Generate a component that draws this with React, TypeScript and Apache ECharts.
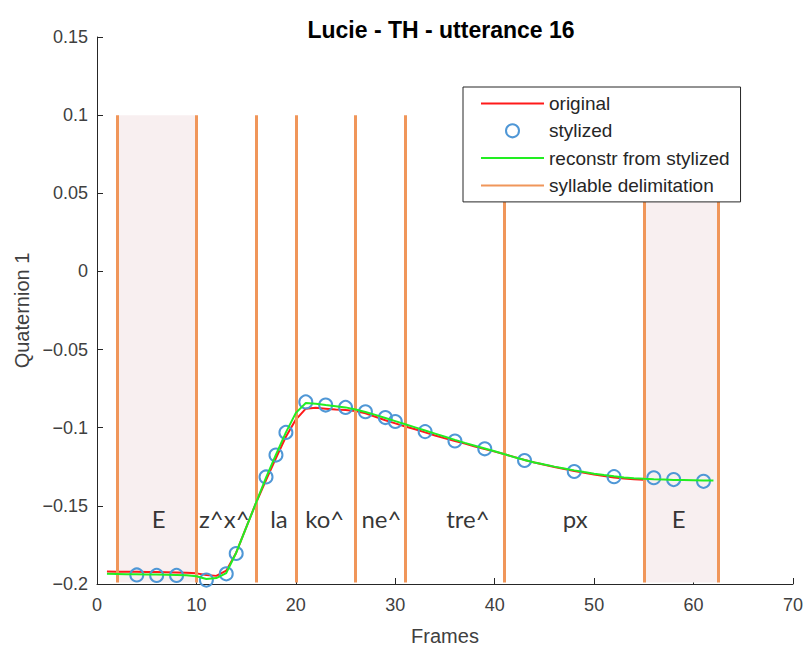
import React, { useEffect, useRef } from "react";
import * as echarts from "echarts";

const titleText = "Lucie - TH - utterance 16";

const originalY = [
  -0.192, -0.1921, -0.1922, -0.1922, -0.1923, -0.1924, -0.1925, -0.1926, -0.1928, -0.1932,
  -0.1942, -0.1948, -0.1915, -0.18, -0.164, -0.148, -0.1335, -0.1195, -0.1058, -0.0948,
  -0.0878, -0.0873, -0.0878, -0.0883, -0.0887, -0.0893, -0.0908, -0.093, -0.0952, -0.0972,
  -0.0992, -0.101, -0.103, -0.105, -0.1068, -0.1085, -0.1102, -0.112, -0.1137, -0.1153,
  -0.117, -0.1188, -0.1206, -0.1222, -0.1237, -0.1251, -0.1264, -0.1277, -0.1288, -0.1299,
  -0.1309, -0.1318, -0.1325, -0.133, -0.1333,
];

const reconY = [
  -0.1935, -0.1936, -0.1937, -0.1938, -0.1939, -0.194, -0.1941, -0.1942, -0.1944, -0.195,
  -0.1968, -0.1962, -0.193, -0.18, -0.164, -0.148, -0.132, -0.1172, -0.103, -0.0905,
  -0.0842, -0.0846, -0.0855, -0.0862, -0.087, -0.0884, -0.0899, -0.0918, -0.0938, -0.0958,
  -0.0978, -0.0998, -0.1018, -0.1038, -0.1058, -0.1078, -0.1097, -0.1115, -0.1133, -0.1151,
  -0.117, -0.1189, -0.1207, -0.1222, -0.1236, -0.1249, -0.1261, -0.1273, -0.1284, -0.1294,
  -0.1303, -0.1311, -0.1318, -0.1323, -0.1327, -0.133, -0.1332, -0.1334, -0.1335, -0.1336,
  -0.1337, -0.1338,
];

const stylizedX = [4, 6, 8, 11, 13, 14, 17, 18, 19, 21, 23, 25, 27, 29, 30, 33, 36, 39, 43, 48, 52, 56, 58, 61];
const stylizedY = [
  -0.1942, -0.1945, -0.1945, -0.1975, -0.1935, -0.1805, -0.1315, -0.1175, -0.103, -0.0835,
  -0.0855, -0.087, -0.0898, -0.0935, -0.096, -0.1025, -0.1085, -0.1135, -0.121, -0.128,
  -0.1313, -0.132, -0.1332, -0.1343,
];

const syllableBounds = [2, 10, 16, 20, 26, 31, 41, 55, 62.5];
const shadedRegions = [
  [2, 10],
  [55, 62.5],
];
const delimTop = 0.1;
const delimBottom = -0.199;

const segLabels = ["E", "z^x^", "la", "ko^", "ne^", "tre^", "px", "E"];
const segLabelX = [6.2, 12.8, 18.3, 22.9, 28.6, 37.3, 48.1, 58.5];
const segLabelY = -0.158;

const legendNames = ["original", "stylized", "reconstr from stylized", "syllable delimitation"];

const xTicks = { min: 0, max: 70, interval: 10 };
const yTicks = { min: -0.2, max: 0.15, interval: 0.05 };

const axisColor = "#262626";
const fmt = (v: number) => {
  const n = parseFloat(Number(v).toFixed(4));
  return String(n).replace("-", "\u2212");
};

export default function App() {
  const ref = useRef<HTMLDivElement>(null);
  useEffect(() => {
    if (!ref.current) return;
    const chart = echarts.init(ref.current, null, { renderer: "svg" });
    const orange = "#f0965a";
    const red = "#ff1a1a";
    const green = "#22ee22";
    const blue = "#4f97d6";
    const noSymbol = { color: "rgba(0,0,0,0)", borderWidth: 0, borderColor: "rgba(0,0,0,0)" };
    chart.setOption({
      animation: false,
      backgroundColor: "#ffffff",
      title: {
        text: titleText,
        left: 436,
        top: 13,
        textAlign: "center",
        textStyle: { fontFamily: "Liberation Sans", fontWeight: "bold", fontSize: 23, color: "#000" },
      },
      grid: { left: 97, right: 11, top: 37, bottom: 67, containLabel: false },
      legend: {
        left: 463,
        top: 87,
        orient: "vertical",
        data: [
          { name: legendNames[0], itemStyle: noSymbol },
          {
            name: legendNames[1],
            icon: "circle",
            itemStyle: { color: "rgba(0,0,0,0)", borderColor: blue, borderWidth: 2 },
          },
          { name: legendNames[2], itemStyle: noSymbol },
          { name: legendNames[3], itemStyle: noSymbol },
        ],
        itemWidth: 63,
        itemHeight: 13,
        itemGap: 8.3,
        padding: [7, 11, 7, 17],
        borderColor: axisColor,
        borderWidth: 1,
        backgroundColor: "#ffffff",
        textStyle: { fontFamily: "Liberation Sans", fontSize: 19, color: "#262626", lineHeight: 18 },
        z: 10,
      },
      xAxis: {
        type: "value",
        min: xTicks.min,
        max: xTicks.max,
        interval: xTicks.interval,
        name: "Frames",
        nameLocation: "middle",
        nameGap: 42,
        nameTextStyle: { fontFamily: "Liberation Sans", fontSize: 20, color: "#404040" },
        axisLine: { show: true, onZero: false, lineStyle: { color: axisColor, width: 1 } },
        axisTick: { show: true, inside: true, length: 6, lineStyle: { color: axisColor } },
        axisLabel: { fontFamily: "Liberation Sans", fontSize: 18, color: "#404040", margin: 12, formatter: fmt },
        splitLine: { show: false },
      },
      yAxis: {
        type: "value",
        min: yTicks.min,
        max: yTicks.max,
        interval: yTicks.interval,
        name: "Quaternion 1",
        nameLocation: "middle",
        nameGap: 64,
        nameTextStyle: { fontFamily: "Liberation Sans", fontSize: 20, color: "#404040" },
        axisLine: { show: true, onZero: false, lineStyle: { color: axisColor, width: 1 } },
        axisTick: { show: true, inside: true, length: 6, lineStyle: { color: axisColor } },
        axisLabel: { fontFamily: "Liberation Sans", fontSize: 18, color: "#404040", margin: 9, formatter: fmt },
        splitLine: { show: false },
      },
      series: [
        {
          name: legendNames[3],
          type: "line",
          data: [],
          symbol: "none",
          color: orange,
          lineStyle: { color: orange, width: 2.5 },
          z: 1,
          markArea: {
            silent: true,
            itemStyle: { color: "#f8eff0" },
            data: shadedRegions.map(([a, b]) => [
              { coord: [a, delimTop] },
              { coord: [b, delimBottom] },
            ]),
          },
          markLine: {
            silent: true,
            symbol: ["none", "none"],
            label: { show: false },
            lineStyle: { color: orange, width: 3, type: "solid", opacity: 1 },
            data: syllableBounds.map((x) => [{ coord: [x, delimTop] }, { coord: [x, delimBottom] }]),
          },
        },
        {
          name: legendNames[0],
          type: "line",
          data: originalY.map((y, i) => [i + 1, y]),
          symbol: "none",
          color: red,
          lineStyle: { color: red, width: 2 },
          z: 3,
        },
        {
          name: legendNames[1],
          type: "scatter",
          data: stylizedX.map((x, i) => [x, stylizedY[i]]),
          symbol: "circle",
          symbolSize: 13,
          itemStyle: { color: "rgba(0,0,0,0)", borderColor: blue, borderWidth: 2, opacity: 1 },
          z: 4,
        },
        {
          name: legendNames[2],
          type: "line",
          data: reconY.map((y, i) => [i + 1, y]),
          symbol: "none",
          color: green,
          lineStyle: { color: green, width: 2 },
          z: 5,
        },
        {
          name: "segments",
          type: "scatter",
          data: segLabelX.map((x, i) => ({ value: [x, segLabelY], name: segLabels[i] })),
          symbolSize: 0,
          silent: true,
          z: 6,
          label: {
            show: true,
            position: "inside",
            formatter: (p: any) => p.name,
            fontFamily: "Lato",
            fontSize: 24,
            color: "#000",
          },
        },
      ],
    });
    return () => chart.dispose();
  }, []);
  return (
    <div
      ref={ref}
      style={{ position: "fixed", left: 0, top: 0, width: 806, height: 651, background: "#fff" }}
    />
  );
}
